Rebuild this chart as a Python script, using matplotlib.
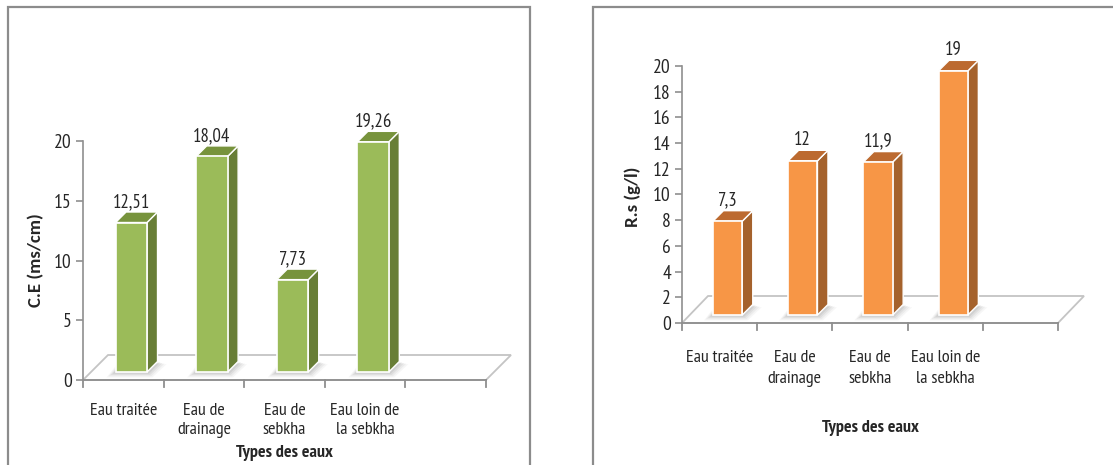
import matplotlib
matplotlib.use("Agg")
import matplotlib.pyplot as plt
from matplotlib.patches import Polygon, Rectangle

# ---- data ----
categories = ["Eau traitée", "Eau de\ndrainage", "Eau de\nsebkha", "Eau loin de\nla sebkha"]
ce_values = [12.51, 18.04, 7.73, 19.26]
rs_values = [7.3, 12, 11.9, 19]
ce_ticks = [0, 5, 10, 15, 20]
rs_ticks = [0, 2, 4, 6, 8, 10, 12, 14, 16, 18, 20]
x_title = "Types des eaux"
ce_title = "C.E (ms/cm)"
rs_title = "R.s (g/l)"

W, H = 1113, 465
N_SLOTS = 5  # four categories plus one empty slot on the category axis

FONT = ["PT Sans Narrow", "DejaVu Sans"]
YFONT = ["Carlito", "DejaVu Sans"]
TXT = "#262626"
AXIS_GRAY = "#8f8f8f"

fig = plt.figure(figsize=(W / 100, H / 100), dpi=100)


def px_axes(x0, y_top, x1, y_bottom):
    return fig.add_axes([x0 / W, 1 - y_bottom / H, (x1 - x0) / W, (y_bottom - y_top) / H])


def shift(ax, x, y, dpx, dpy):
    p = ax.transData.transform((x, y))
    return tuple(ax.transData.inverted().transform((p[0] + dpx, p[1] + dpy)))


def draw_panel(ax, values, ticks, ylabel, colors, floor_d, label_gap, linespacing,
               ylabel_xy, xtitle_xy):
    front, side, top = colors
    ax.set_xlim(0, N_SLOTS)
    ax.set_ylim(0, ticks[-1])
    for s in ["top", "right", "bottom"]:
        ax.spines[s].set_visible(False)
    ax.spines["left"].set_color(AXIS_GRAY)
    ax.spines["left"].set_linewidth(1.2)
    ax.set_yticks(ticks)
    ax.set_yticklabels([str(t) for t in ticks], fontfamily=FONT, fontsize=14, color=TXT)
    ax.tick_params(axis="y", length=5, width=1.2, color=AXIS_GRAY, pad=3)
    ax.set_xticks([])
    ax.patch.set_alpha(0)

    fdx, fdy = floor_d
    # floor of the 3-D box
    corners = [(0, 0), (N_SLOTS, 0), shift(ax, N_SLOTS, 0, fdx, fdy), shift(ax, 0, 0, fdx, fdy)]
    ax.add_patch(Polygon(corners, closed=True, facecolor="white", edgecolor="#c4c4c4",
                         lw=1.3, clip_on=False, zorder=1))
    ax.plot([0, N_SLOTS], [0, 0], color=AXIS_GRAY, lw=1.3, clip_on=False, zorder=2)
    # category boundary ticks
    for k in range(N_SLOTS + 1):
        b = shift(ax, k, 0, 0, -7)
        ax.plot([k, b[0]], [0, b[1]], color=AXIS_GRAY, lw=1.3, clip_on=False, zorder=2)

    bw = 0.39
    d0, dd = 8, 10.5
    for i, v in enumerate(values):
        xl = i + 0.5 - bw / 2
        xr = i + 0.5 + bw / 2
        fl0 = shift(ax, xl, 0, d0, d0)
        fr0 = shift(ax, xr, 0, d0, d0)
        fl1 = shift(ax, xl, v, d0, d0)
        fr1 = shift(ax, xr, v, d0, d0)
        br0 = shift(ax, xr, 0, d0 + dd, d0 + dd)
        bl1 = shift(ax, xl, v, d0 + dd, d0 + dd)
        br1 = shift(ax, xr, v, d0 + dd, d0 + dd)
        # soft shadow on the floor
        for k, a in enumerate([0.06, 0.08, 0.1, 0.12]):
            g = 9 - 2 * k
            sh = [shift(ax, xl, 0, d0 - g, d0 - g * 0.6),
                  shift(ax, xr, 0, d0 + g * 0.6, d0 - g * 0.6),
                  shift(ax, xr, 0, d0 + dd + g, d0 + dd - g * 0.3),
                  shift(ax, xl, 0, d0 + dd - g, d0 + dd - g * 0.3)]
            ax.add_patch(Polygon(sh, closed=True, facecolor="#6e6e6e", alpha=a,
                                 edgecolor="none", clip_on=False, zorder=3))
        ax.add_patch(Polygon([fr0, br0, br1, fr1], closed=True, facecolor=side,
                             edgecolor="white", lw=1.0, clip_on=False, zorder=4))
        ax.add_patch(Polygon([fl1, fr1, br1, bl1], closed=True, facecolor=top,
                             edgecolor="white", lw=1.0, clip_on=False, zorder=4))
        ax.add_patch(Polygon([fl0, fr0, fr1, fl1], closed=True, facecolor=front,
                             edgecolor="white", lw=1.2, clip_on=False, zorder=5))
        lbl = f"{v:g}".replace(".", ",")
        lx, _ = shift(ax, i + 0.5, v, d0, 0)
        _, ly = shift(ax, 0, v, 0, d0 + dd + 1)
        ax.text(lx, ly, lbl, ha="center", va="bottom", fontfamily=FONT,
                fontsize=13.5, color=TXT, clip_on=False, zorder=6)

    for i, c in enumerate(categories):
        ax.annotate(c, xy=(i + 0.5, 0), xycoords="data", xytext=(0, -label_gap * 0.72),
                    textcoords="offset points", ha="center", va="top",
                    fontfamily=FONT, fontsize=13, color=TXT, linespacing=linespacing,
                    annotation_clip=False)

    fig.text(ylabel_xy[0] / W, 1 - ylabel_xy[1] / H, ylabel, rotation=90,
             ha="center", va="center", fontfamily=YFONT, fontweight="bold",
             fontsize=13.5, color=TXT)
    fig.text(xtitle_xy[0] / W, 1 - xtitle_xy[1] / H, x_title, ha="center", va="center",
             fontfamily=FONT, fontweight="bold", fontsize=13, color=TXT)


# panel frames
fig.add_artist(Rectangle((8 / W, -0.05), (530 - 8) / W, 1.05 - 7 / H, transform=fig.transFigure,
                         facecolor="none", edgecolor="#8c8c8c", lw=1.6))
fig.add_artist(Rectangle((593 / W, -0.05), 0.5, 1.05 - 7 / H, transform=fig.transFigure,
                         facecolor="none", edgecolor="#8c8c8c", lw=1.6))

ax1 = px_axes(83, 141, 486, 380)
draw_panel(ax1, ce_values, ce_ticks, ce_title,
           ("#9BBB59", "#687E36", "#77933C"), (25, 25), 23, 1.22,
           (36, 260), (284, 453))

ax2 = px_axes(682, 66, 1058, 323)
draw_panel(ax2, rs_values, rs_ticks, rs_title,
           ("#F79646", "#A5622C", "#BC6A30"), (26, 27), 27, 1.45,
           (633, 197), (870, 428))

fig.savefig("out.png", dpi=100)
